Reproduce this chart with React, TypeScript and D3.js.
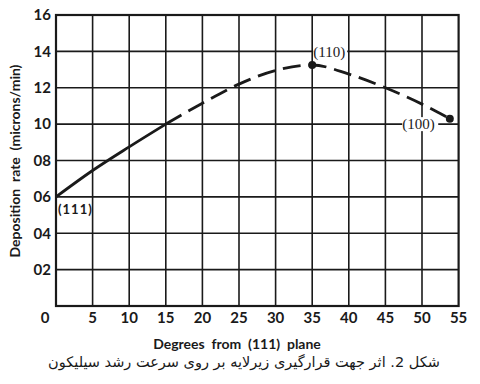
import React from "react";
import * as d3 from "d3";

const W = 480;
const H = 384;

const xTicks = [0, 5, 10, 15, 20, 25, 30, 35, 40, 45, 50, 55];
const yTicks = [2, 4, 6, 8, 10, 12, 14, 16];
const yTickLabels = ["02", "04", "06", "08", "10", "12", "14", "16"];

// solid segment
const solidDeg = [0, 5, 10, 15];
const solidRate = [6.0, 7.45, 8.75, 10.0];
// dashed segment
const dashDeg = [15, 20, 25, 30, 35, 40, 45, 50, 53.8];
const dashRate = [10.0, 11.15, 12.2, 12.95, 13.25, 12.75, 12.0, 11.1, 10.3];

const markerDeg = [35, 53.8];
const markerRate = [13.25, 10.3];

const xTitle = "Degrees  from  (111)  plane";
const yTitle = "Deposition  rate  (microns/min)";
const caption = "شکل 2. اثر جهت قرارگیری زیرلایه بر روی سرعت رشد سیلیکون";

export default function App() {
  const x = d3.scaleLinear().domain([0, 55]).range([56, 458.6]);
  const y = d3.scaleLinear().domain([0, 16]).range([306, 15]);

  const line = d3
    .line<[number, number]>()
    .x((d) => x(d[0]))
    .y((d) => y(d[1]))
    .curve(d3.curveMonotoneX);

  const solidPts = solidDeg.map((d, i) => [d, solidRate[i]] as [number, number]);
  const dashPts = dashDeg.map((d, i) => [d, dashRate[i]] as [number, number]);

  const tickFont = "Lato, 'Open Sans', sans-serif";
  const ink = "#1a1a1a";

  return (
    <svg
      width={W}
      height={H}
      style={{ position: "absolute", left: 0, top: 0, background: "#fff" }}
    >
      <rect x={0} y={0} width={W} height={H} fill="#fff" />
      {/* grid */}
      {xTicks.slice(1, -1).map((t) => (
        <line key={"vx" + t} x1={x(t)} x2={x(t)} y1={y(16)} y2={y(0)} stroke={ink} strokeWidth={1.6} />
      ))}
      {yTicks.slice(0, -1).map((t) => (
        <line key={"hy" + t} x1={x(0)} x2={x(55)} y1={y(t)} y2={y(t)} stroke={ink} strokeWidth={1.6} />
      ))}
      <rect
        x={x(0)}
        y={y(16)}
        width={x(55) - x(0)}
        height={y(0) - y(16)}
        fill="none"
        stroke={ink}
        strokeWidth={2.2}
      />

      {/* data */}
      <path d={line(solidPts) || ""} fill="none" stroke={ink} strokeWidth={2.8} />
      <path d={line(dashPts) || ""} fill="none" stroke={ink} strokeWidth={2.8} strokeDasharray="18,8" />
      {markerDeg.map((d, i) => (
        <circle key={"m" + i} cx={x(d)} cy={y(markerRate[i])} r={4} fill={ink} />
      ))}

      {/* point labels */}
      <rect x={x(35) + 1} y={y(14) - 7} width={34} height={14} fill="#fff" />
      <text x={x(35) + 1} y={y(14)} dy="0.35em" fontFamily="'Liberation Serif', serif" fontSize={15} fill={ink}>
        (110)
      </text>
      <rect x={x(47.3)} y={y(10) - 7} width={36} height={14} fill="#fff" />
      <text x={x(47.3)} y={y(10)} dy="0.35em" fontFamily="'Liberation Serif', serif" fontSize={15} fill={ink}>
        (100)
      </text>
      <text x={x(0) + 2} y={y(5.3)} dy="0.35em" fontFamily={tickFont} fontWeight={700} fontSize={13} fill={ink} letterSpacing={1}>
        (111)
      </text>

      {/* y tick labels */}
      {yTicks.map((t, i) => (
        <text
          key={"yl" + t}
          x={51}
          y={y(t)}
          dy="0.35em"
          textAnchor="end"
          fontFamily={tickFont}
          fontWeight={700}
          fontSize={15}
          fill={ink}
        >
          {yTickLabels[i]}
        </text>
      ))}
      {/* x tick labels */}
      {xTicks.map((t) => (
        <text
          key={"xl" + t}
          x={t === 0 ? 45 : x(t)}
          y={318}
          dy="0.35em"
          textAnchor="middle"
          fontFamily={tickFont}
          fontWeight={700}
          fontSize={15}
          fill={ink}
        >
          {t}
        </text>
      ))}

      {/* axis titles */}
      <text
        x={237}
        y={344}
        dy="0.35em"
        textAnchor="middle"
        fontFamily={tickFont}
        fontWeight={700}
        fontSize={14}
        fill={ink}
        style={{ whiteSpace: "pre" }}
      >
        {xTitle}
      </text>
      <text
        transform={`translate(15,161) rotate(-90)`}
        dy="0.35em"
        textAnchor="middle"
        fontFamily={tickFont}
        fontWeight={700}
        fontSize={14}
        fill={ink}
        style={{ whiteSpace: "pre" }}
      >
        {yTitle}
      </text>

      {/* caption */}
      <text
        x={244}
        y={362}
        dy="0.35em"
        textAnchor="middle"
        direction="rtl"
        fontFamily="'DejaVu Sans', sans-serif"
        fontSize={14.5}
        fill={ink}
      >
        {caption}
      </text>
    </svg>
  );
}
